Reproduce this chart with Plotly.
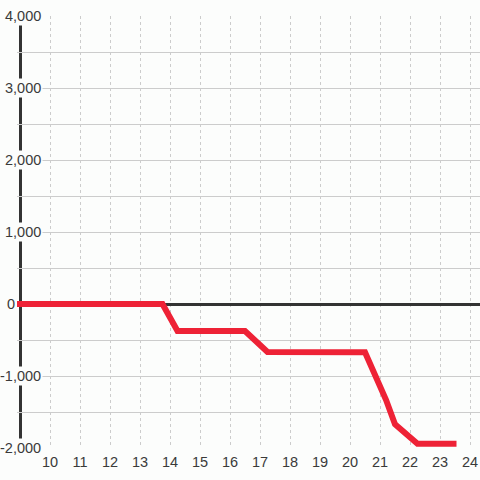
import plotly.graph_objects as go

x_vals = [8.9, 13.75, 14.25, 16.5, 17.25, 18, 20.5, 21.2, 21.5, 22.25, 23.55]
y_vals = [0, 0, -375, -375, -665, -670, -670, -1330, -1670, -1940, -1940]

y_ticks = [4000, 3000, 2000, 1000, 0, -1000, -2000]
y_tick_text = ["4,000", "3,000", "2,000", "1,000", "0", "-1,000", "-2,000"]
x_ticks = list(range(10, 25))

BG = "#fcfdfc"
FONT = dict(family="Liberation Sans, Arial, sans-serif", size=14.5, color="#3a3a3a")
PLOT_W = 463.0

fig = go.Figure()
fig.add_trace(go.Scatter(x=x_vals, y=y_vals, mode="lines",
                         line=dict(color="#ee2236", width=6),
                         hoverinfo="skip", showlegend=False))

# y-axis spine
fig.add_shape(type="line", xref="paper", yref="paper",
              x0=3.5 / PLOT_W, x1=3.5 / PLOT_W, y0=0, y1=1,
              line=dict(color="#333333", width=3), layer="below")

for v, t in zip(y_ticks, y_tick_text):
    if v == 0:
        fig.add_annotation(x=-1 / PLOT_W, xref="paper", y=v, yref="y", text=t,
                           showarrow=False, xanchor="right", yanchor="middle",
                           borderpad=0, font=FONT)
    else:
        fig.add_annotation(x=26 / PLOT_W, xref="paper", y=v, yref="y", text=t,
                           showarrow=False, xanchor="right", yanchor="middle",
                           bgcolor=BG, borderpad=1, font=FONT)

fig.update_layout(
    width=480, height=480,
    margin=dict(l=17, r=0, t=16, b=32),
    paper_bgcolor=BG, plot_bgcolor=BG,
    showlegend=False,
    xaxis=dict(range=[8.9, 8.9 + PLOT_W / 30], tickvals=x_ticks, showgrid=True,
               gridcolor="#cccccc", griddash="3px,3px", gridwidth=1,
               showline=False, zeroline=False, ticks="", tickfont=FONT,
               ticklabelstandoff=3, fixedrange=True),
    yaxis=dict(range=[-2000, 4000], dtick=500, showgrid=True,
               gridcolor="#cccccc", gridwidth=1, showticklabels=False,
               showline=False,
               zeroline=True, zerolinecolor="#333333", zerolinewidth=3,
               ticks="", fixedrange=True),
)

fig.write_html("out.html", config={"displayModeBar": False},
               post_script="document.body.style.margin='0';")
